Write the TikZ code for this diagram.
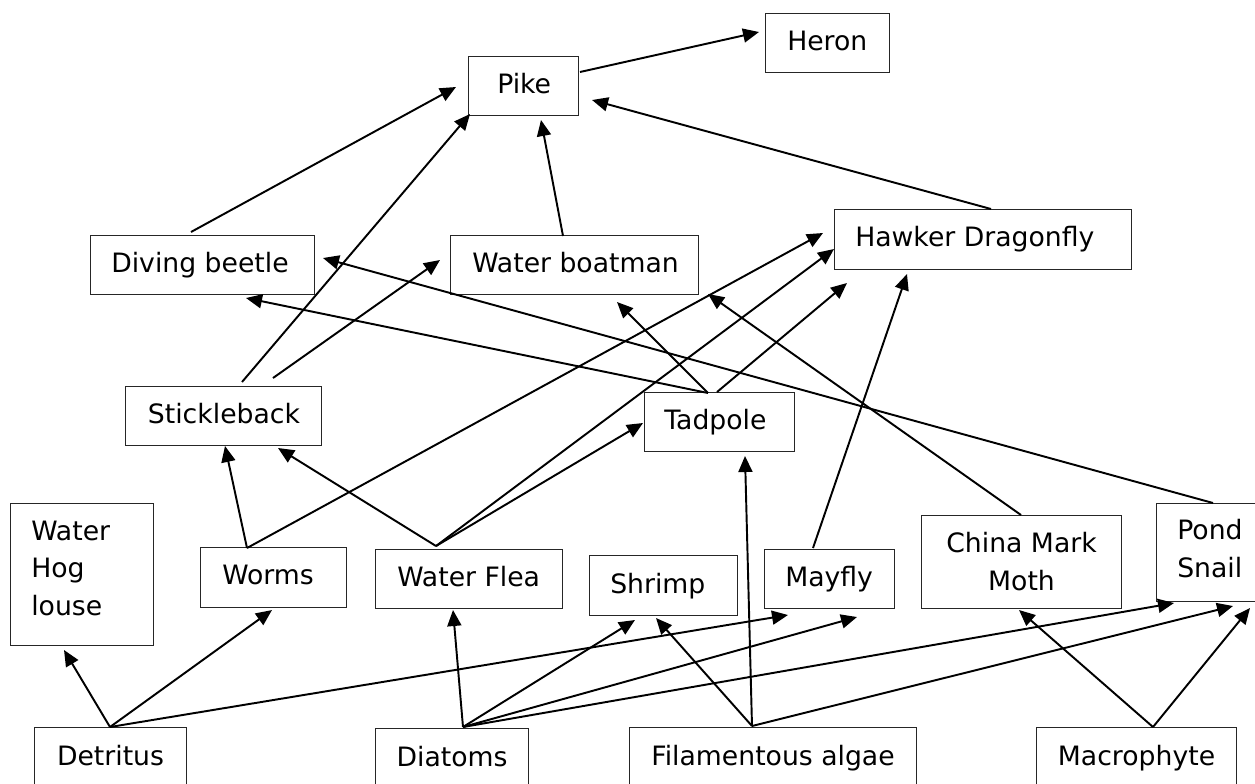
\documentclass[tikz,border=0pt]{standalone}
\usepackage{fontspec}
\setmainfont{DejaVu Sans}
\usetikzlibrary{arrows.meta}
\begin{document}
\begin{tikzpicture}[x=0.75pt,y=-0.75pt,
  box/.style={draw=black!85, line width=0.8pt, anchor=north west, inner sep=0pt},
  lbl/.style={font=\fontsize{20pt}{28pt}\selectfont, inner sep=0pt},
  arr/.style={line width=1.45pt, -{Triangle[length=12pt,width=10.5pt]}}]
\useasboundingbox (0,0) rectangle (1255,783);
\clip (0,0) rectangle (1255,783);
\fill[white] (0,0) rectangle (1255,783);

% ---- boxes ----
\node[box, minimum width=82.5pt,  minimum height=44.25pt] (pike)     at (468,56)  {};
\node[box, minimum width=93pt,    minimum height=44.25pt] (heron)    at (765,13)  {};
\node[box, minimum width=168pt,   minimum height=44.25pt] (diving)   at (90,235)  {};
\node[box, minimum width=186pt,   minimum height=44.25pt] (boatman)  at (450,235) {};
\node[box, minimum width=222.75pt,minimum height=45pt]    (hawker)   at (834,209) {};
\node[box, minimum width=147pt,   minimum height=44.25pt] (stickle)  at (125,386) {};
\node[box, minimum width=112.5pt, minimum height=44.25pt] (tadpole)  at (644,392) {};
\node[box, minimum width=107.25pt,minimum height=106.5pt] (hog)      at (10,503)  {};
\node[box, minimum width=109.5pt, minimum height=45pt]    (worms)    at (200,547) {};
\node[box, minimum width=140.25pt,minimum height=44.25pt] (flea)     at (375,549) {};
\node[box, minimum width=111pt,   minimum height=45pt]    (shrimp)   at (589,555) {};
\node[box, minimum width=97.5pt,  minimum height=44.25pt] (mayfly)   at (764,549) {};
\node[box, minimum width=150pt,   minimum height=69.75pt] (china)    at (921,515) {};
\node[box, minimum width=89.25pt, minimum height=73.5pt]  (snail)    at (1156,503) {};
\node[box, minimum width=114pt,   minimum height=44.25pt] (detritus) at (34,727)  {};
\node[box, minimum width=114.75pt,minimum height=44.25pt] (diatoms)  at (375,728) {};
\node[box, minimum width=215.25pt,minimum height=44.25pt] (filament) at (629,727) {};
\node[box, minimum width=150pt,   minimum height=44.25pt] (macro)    at (1036,727) {};

% ---- labels ----
\node[lbl, anchor=base west] (pike-t)    at ([shift={(21.75pt,-27.75pt)}]pike.north west) {Pike};
\node[lbl, anchor=base west] (heron-t)   at ([shift={(16.5pt,-27.75pt)}]heron.north west) {Heron};
\node[lbl, anchor=base west] (diving-t)  at ([shift={(15.75pt,-27.75pt)}]diving.north west) {Diving beetle};
\node[lbl, anchor=base west] (boatman-t) at ([shift={(16.5pt,-27.75pt)}]boatman.north west) {Water boatman};
\node[lbl, anchor=base west] (hawker-t)  at ([shift={(15.75pt,-27.75pt)}]hawker.north west) {Hawker Dragonfly};
\node[lbl, anchor=base west] (stickle-t) at ([shift={(17pt,-27.75pt)}]stickle.north west) {Stickleback};
\node[lbl, anchor=base west] (tadpole-t) at ([shift={(15pt,-27.75pt)}]tadpole.north west) {Tadpole};
\node[lbl, anchor=base west, align=left] (hog-t) at ([shift={(15.75pt,-84pt)}]hog.north west) {Water\\Hog\\louse};
\node[lbl, anchor=base west] (worms-t)   at ([shift={(16.5pt,-27.75pt)}]worms.north west) {Worms};
\node[lbl, anchor=base west] (flea-t)    at ([shift={(16.5pt,-27.75pt)}]flea.north west) {Water Flea};
\node[lbl, anchor=base west] (shrimp-t)  at ([shift={(15.75pt,-28.5pt)}]shrimp.north west) {Shrimp};
\node[lbl, anchor=base west] (mayfly-t)  at ([shift={(15.75pt,-27.75pt)}]mayfly.north west) {Mayfly};
\node[lbl, anchor=base, align=center] (china-t) at ([yshift=-56.25pt]china.north) {China Mark\\Moth};
\node[lbl, anchor=base west, align=left] (snail-t) at ([shift={(15.75pt,-55.5pt)}]snail.north west) {Pond\\Snail};
\node[lbl, anchor=base] (detritus-t) at ([yshift=-28.5pt]detritus.north) {Detritus};
\node[lbl, anchor=base] (diatoms-t)  at ([yshift=-28.5pt]diatoms.north) {Diatoms};
\node[lbl, anchor=base] (filament-t) at ([yshift=-28.5pt]filament.north) {Filamentous algae};
\node[lbl, anchor=base] (macro-t)    at ([yshift=-28.5pt]macro.north) {Macrophyte};

% ---- connector end points ----
\coordinate (det-o)  at (110,727);
\coordinate (dia-o)  at (463,727);
\coordinate (fil-o)  at (752,726);
\coordinate (mac-o)  at (1153,727);
\coordinate (flea-o) at (436,546);
\coordinate (worm-o) at (247,548);
\coordinate (may-o)  at (813,548);
\coordinate (chi-o)  at (1021,515);
\coordinate (sna-o)  at (1213,503);
\coordinate (tad-o)  at (708,393);
\coordinate (tad-o2) at (717,392);
\coordinate (sti-o)  at (242,382);
\coordinate (sti-o2) at (273,378);
\coordinate (div-o)  at (191,232);
\coordinate (boa-o)  at (563,236);
\coordinate (haw-o)  at (991,209);
\coordinate (pik-o)  at (580,72);

\coordinate (hog-i)   at (64,650);
\coordinate (worm-i)  at (272,610);
\coordinate (may-i1)  at (788,615);
\coordinate (may-i2)  at (857,617);
\coordinate (flea-i)  at (453,610);
\coordinate (shr-i1)  at (635,620);
\coordinate (shr-i2)  at (656,618);
\coordinate (sna-i1)  at (1174,603);
\coordinate (sna-i2)  at (1233,606);
\coordinate (sna-i3)  at (1250,608);
\coordinate (tad-i1)  at (745,456);
\coordinate (tad-i2)  at (643,423);
\coordinate (chi-i)   at (1019,610);
\coordinate (sti-i1)  at (278,448);
\coordinate (sti-i2)  at (225,446);
\coordinate (haw-i1)  at (823,233);
\coordinate (haw-i2)  at (834,249);
\coordinate (haw-i3)  at (847,283);
\coordinate (haw-i4)  at (907,274);
\coordinate (boa-i1)  at (708,294);
\coordinate (boa-i2)  at (617,302);
\coordinate (boa-i3)  at (440,260);
\coordinate (div-i1)  at (323,258);
\coordinate (div-i2)  at (246,298);
\coordinate (pik-i1)  at (470,114);
\coordinate (pik-i2)  at (456,87);
\coordinate (pik-i3)  at (541,120);
\coordinate (pik-i4)  at (592,100);
\coordinate (her-i)   at (759,32);

% ---- connectors ----
\draw[arr] (det-o) -- (hog-i);
\draw[arr] (det-o) -- (worm-i);
\draw[arr] (det-o) -- (may-i1);
\draw[arr] (dia-o) -- (flea-i);
\draw[arr] (dia-o) -- (shr-i1);
\draw[arr] (dia-o) -- (may-i2);
\draw[arr] (dia-o) -- (sna-i1);
\draw[arr] (fil-o) -- (shr-i2);
\draw[arr] (fil-o) -- (tad-i1);
\draw[arr] (fil-o) -- (sna-i2);
\draw[arr] (mac-o) -- (chi-i);
\draw[arr] (mac-o) -- (sna-i3);
\draw[arr] (flea-o) -- (sti-i1);
\draw[arr] (flea-o) -- (haw-i2);
\draw[arr] (flea-o) -- (tad-i2);
\draw[arr] (worm-o) -- (sti-i2);
\draw[arr] (worm-o) -- (haw-i1);
\draw[arr] (may-o) -- (haw-i4);
\draw[arr] (chi-o) -- (boa-i1);
\draw[arr] (sna-o) -- (div-i1);
\draw[arr] (tad-o) -- (boa-i2);
\draw[arr] (tad-o) -- (div-i2);
\draw[arr] (tad-o2) -- (haw-i3);
\draw[arr] (sti-o) -- (pik-i1);
\draw[arr] (sti-o2) -- (boa-i3);
\draw[arr] (div-o) -- (pik-i2);
\draw[arr] (boa-o) -- (pik-i3);
\draw[arr] (haw-o) -- (pik-i4);
\draw[arr] (pik-o) -- (her-i);
\end{tikzpicture}
\end{document}
